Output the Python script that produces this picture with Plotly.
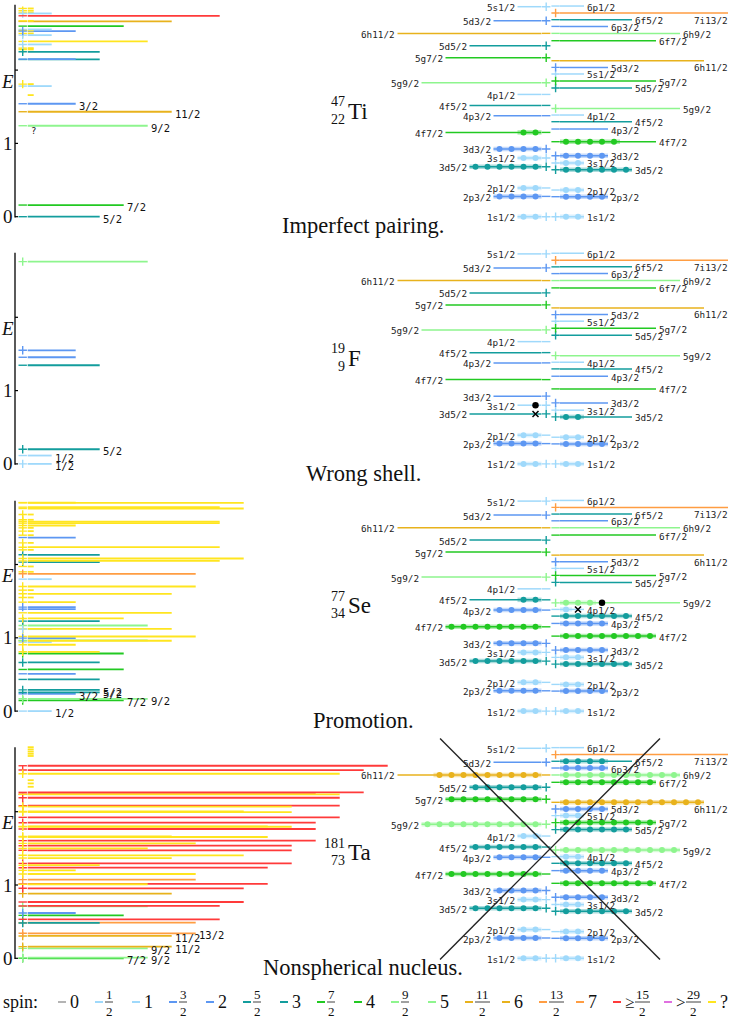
import plotly.graph_objects as go

# ------------------------------------------------------------------ data
SPIN_LEGEND = ["0", "1/2", "1", "3/2", "2", "5/2", "3", "7/2", "4", "9/2", "5",
               "11/2", "6", "13/2", "7", "≥15/2", ">29/2", "?"]
LEGEND_COLORS = ["#b4b4b4", "#9fd9fb", "#9fd9fb", "#5d97f2", "#5d97f2", "#139d9d",
                 "#139d9d", "#22c922", "#22c922", "#8ef58e", "#8ef58e", "#e8b21c",
                 "#e8b21c", "#ff9d42", "#ff9d42", "#ff3a3a", "#e070e0", "#ffe51f"]

# shell-model single-particle levels (energies in E units above 1s1/2)
PROTON_LEVELS = ["1s1/2", "2p3/2", "2p1/2", "3d5/2", "3s1/2", "3d3/2", "4f7/2", "4p3/2",
                 "4f5/2", "4p1/2", "5g9/2", "5g7/2", "5d5/2", "6h11/2", "5d3/2", "5s1/2"]
PROTON_E = [0.0, 0.277, 0.392, 0.682, 0.801, 0.924, 1.150, 1.378,
            1.518, 1.668, 1.828, 2.169, 2.333, 2.501, 2.674, 2.865]
NEUTRON_LEVELS = ["1s1/2", "2p3/2", "2p1/2", "3d5/2", "3s1/2", "3d3/2", "4f7/2", "4p3/2",
                  "4f5/2", "4p1/2", "5g9/2", "5d5/2", "5g7/2", "5s1/2", "5d3/2", "6h11/2",
                  "6f7/2", "6h9/2", "6p3/2", "6f5/2", "7i13/2", "6p1/2"]
NEUTRON_E = [0.0, 0.273, 0.364, 0.641, 0.733, 0.832, 1.023, 1.196,
             1.296, 1.387, 1.477, 1.756, 1.851, 1.947, 2.037, 2.128,
             2.401, 2.501, 2.596, 2.688, 2.779, 2.874]

# occupations (counts per level, in list order)
TI_PROT = [2, 4, 2, 6, 2, 4, 2]
TI_NEUT = [2, 4, 2, 6, 2, 4, 5]
F_PROT = [2, 4, 2]
F_NEUT = [2, 4, 2, 2]
SE_PROT = [2, 4, 2, 6, 2, 4, 8, 4, 2]
SE_NEUT = [2, 4, 2, 6, 2, 4, 8, 4, 6, 1, 3]
TA_PROT = [2, 4, 2, 6, 2, 4, 8, 4, 6, 2, 10, 8, 6, 9]
TA_NEUT = [2, 4, 2, 6, 2, 4, 8, 4, 6, 2, 10, 6, 8, 2, 4, 12, 8, 10, 4, 4]
# special marks: (panel, side, level, slot, kind)
SPECIAL = [(1, "p", "3s1/2", 0, "dot"), (1, "p", "3d5/2", 0, "x"),
           (2, "n", "4p1/2", 1, "x"), (2, "n", "5g9/2", 3, "dot")]

# measured spectra: energy, 2J (None = unknown, short mark), parity, uncertain spin
TI_E = [0.000, 0.159, 1.241, 1.432, 1.541, 1.659, 1.782, 1.809, 2.145, 2.150, 2.250, 2.282,
        2.300, 2.350, 2.391, 2.477, 2.500, 2.532, 2.540, 2.555, 2.600, 2.664, 2.672, 2.741,
        2.773, 2.780, 2.809, 2.841]
TI_2J = [5, 7, 9, 11, 3, None, 1, None, 5, 3, 5, None, None, 1, 9, 1, None, 3, None, 1, 7, 11,
         None, 15, 1, None, None, None]
TI_PAR = ["-", "-", "-", "-", "-", "", "-", "+", "-", "-", "+", "+", "-", "+", "-", "+", "+",
          "+", "-", "-", "-", "-", "-", "-", "+", "-", "+", "-"]
TI_UNC = [0, 0, 0, 0, 0, 1, 0, 1, 0, 0, 0, 1, 1, 0, 1, 0, 1, 0, 1, 0, 0, 0, 1, 0, 0, 1, 1, 1]
TI_LABELS = [(0, "5/2"), (1, "7/2"), (2, "9/2"), (3, "11/2"), (4, "3/2")]

F_E = [0.000, 0.114, 0.200, 1.346, 1.455, 1.550, 2.760]
F_2J = [1, 1, 5, 5, 3, 3, 9]
F_PAR = ["+", "-", "+", "-", "-", "+", "+"]
F_UNC = [0, 0, 0, 0, 0, 0, 0]
F_LABELS = [(0, "1/2"), (1, "1/2"), (2, "5/2")]

SE_E = [0.000, 0.145, 0.168, 0.236, 0.255, 0.290, 0.432, 0.509, 0.568, 0.664, 0.786, 0.809,
        0.905, 0.941, 0.960, 0.964, 0.995, 1.018, 1.118, 1.122, 1.168, 1.227, 1.264, 1.341,
        1.391, 1.418, 1.486, 1.550, 1.600, 1.650, 1.700, 1.800, 1.873, 1.900, 1.973, 2.032,
        2.050, 2.082, 2.132, 2.200, 2.236, 2.295, 2.368, 2.400, 2.455, 2.500, 2.532, 2.564,
        2.586, 2.610, 2.682, 2.764, 2.782, 2.841, 2.845]
SE_2J = [1, 7, 9, 3, 5, 5, 5, 3, 7, 5, 7, 5,
         3, 1, 11, 9, 3, 13, 1, 11, 9, 5, 7, 11,
         3, 3, 3, None, 11, None, 13, 1, 13, None, None, 5,
         15, 17, 5, None, 15, None, 3, None, None, None, 3, 15,
         15, None, None, 17, 15, 17, 3]
SE_PAR = ["-", "+", "+", "-", "-", "+", "-", "-", "-", "+", "+", "+",
          "+", "-", "+", "-", "+", "+", "+", "+", "+", "+", "+", "-",
          "-", "+", "-", "+", "+", "-", "+", "-", "+", "-", "-", "+",
          "+", "+", "+", "-", "+", "+", "-", "-", "+", "-", "+", "-",
          "+", "+", "+", "-", "-", "-", "-"]
SE_UNC = [0, 0, 0, 0, 0, 0, 0, 0, 0, 0, 0, 1,
          1, 0, 1, 0, 0, 1, 0, 1, 0, 0, 1, 1,
          0, 0, 1, 1, 1, 1, 1, 0, 0, 1, 1, 0,
          1, 1, 0, 1, 1, 1, 0, 1, 1, 1, 1, 1,
          1, 1, 1, 1, 1, 1, 1]
SE_LABELS = [(0, "1/2"), (1, "7/2"), (2, "9/2"), (3, "3/2"), (4, "5/2"), (5, "5/2")]

TA_E = [0.000, 0.008, 0.136, 0.159, 0.305, 0.341, 0.482, 0.486, 0.532, 0.586, 0.618, 0.710,
        0.714, 0.768, 0.882, 0.955, 1.010, 1.014, 1.073, 1.150, 1.200, 1.236, 1.270, 1.295,
        1.368, 1.405, 1.473, 1.500, 1.536, 1.568, 1.605, 1.655, 1.664, 1.764, 1.795, 1.800,
        1.850, 1.923, 1.995, 2.005, 2.070, 2.082, 2.190, 2.236, 2.240, 2.264, 2.340, 2.386,
        2.430, 2.518, 2.568, 2.627, 2.760, 2.790, 2.820, 2.850, 2.880]
TA_2J = [7, 9, 9, 11, 11, 13, 5, 13, 15, 7, 3, 9,
         15, 17, 11, 17, 9, 19, 13, 13, 3, 19, 5, 21,
         11, 17, 21, 9, 21, 13, 23, 19, 11, 23, 21, 19,
         23, 25, 21, 17, 21, 25, 25, 25, 23, 27, None, None,
         None, 25, 27, 29, None, None, None, None, None]
TA_PAR = ["+", "+", "+", "+", "+", "+", "+", "+", "-", "+", "+", "+",
          "-", "-", "+", "+", "-", "-", "+", "+", "+", "+", "+", "+",
          "-", "+", "-", "+", "-", "+", "+", "+", "+", "-", "+", "+",
          "+", "-", "+", "+", "+", "+", "+", "-", "-", "-", "", "",
          "", "+", "+", "-", "", "", "", "", ""]
TA_UNC = [0, 0, 0, 0, 0, 0, 0, 0, 0, 0, 0, 0,
          0, 0, 0, 0, 1, 0, 0, 1, 1, 0, 1, 0,
          1, 1, 0, 1, 0, 1, 0, 1, 1, 0, 1, 1,
          0, 0, 1, 1, 1, 0, 0, 1, 0, 0, 1, 1,
          1, 1, 0, 0, 1, 1, 1, 1, 1]
TA_LABELS = [(0, "7/2"), (1, "9/2"), (2, "9/2"), (3, "11/2"), (4, "11/2"), (5, "13/2")]

NUCLIDES = [("47", "22", "Ti"), ("19", "9", "F"), ("77", "34", "Se"), ("181", "73", "Ta")]
CAPTIONS = ["Imperfect pairing.", "Wrong shell.", "Promotion.", "Nonspherical nucleus."]
AXIS_TOP = [2.89, 2.88, 2.87, 2.88]
CROSS_X = [36.67, 55.0]
CROSS_Y = [3.0, -0.015]

PANELS = [
    dict(E=TI_E, J=TI_2J, P=TI_PAR, U=TI_UNC, L=TI_LABELS, prot=TI_PROT, neut=TI_NEUT),
    dict(E=F_E, J=F_2J, P=F_PAR, U=F_UNC, L=F_LABELS, prot=F_PROT, neut=F_NEUT),
    dict(E=SE_E, J=SE_2J, P=SE_PAR, U=SE_UNC, L=SE_LABELS, prot=SE_PROT, neut=SE_NEUT),
    dict(E=TA_E, J=TA_2J, P=TA_PAR, U=TA_UNC, L=TA_LABELS, prot=TA_PROT, neut=TA_NEUT),
]

# ------------------------------------------------------------------ geometry / style
W, H = 729, 1018
SLOT = 12.0           # px per single-particle state
PXE = 73.3            # px per unit of E
BASES = [216.7, 463.9, 711.1, 958.3]
YREFS = ["y", "y2", "y3", "y4"]

AX_X = 15 / SLOT
SIGN_X = 22.7 / SLOT
LINE_X0 = 27.7 / SLOT
P_END = 541.5 / SLOT
P_SIGN = 546.2 / SLOT
N_SIGN = 555.6 / SLOT
N_START = 560.0 / SLOT

SERIF = "Liberation Serif"
MONO = "DejaVu Sans Mono"


def color_for(two_j, unc):
    if unc or two_j is None:
        return LEGEND_COLORS[17]
    if two_j >= 31:
        return LEGEND_COLORS[16]
    if two_j >= 15:
        return LEGEND_COLORS[15]
    return LEGEND_COLORS[two_j]


def parse_level(name):
    l = name[1]
    tj = int(name[2:].split("/")[0])
    par = "+" if l in "sdgi" else "-"
    return tj, par


fig = go.Figure()


def add_lines(segs, yref, width, opacity=1.0):
    bycol = {}
    for (x0, x1, y, col) in segs:
        xs, ys = bycol.setdefault(col, ([], []))
        xs += [x0, x1, None]
        ys += [y, y, None]
    for col, (xs, ys) in bycol.items():
        fig.add_trace(go.Scatter(x=xs, y=ys, mode="lines", yaxis=yref, xaxis="x",
                                 line=dict(color=col, width=width), opacity=opacity,
                                 hoverinfo="skip", showlegend=False))


def add_signs(signs, yref):
    groups = {}
    for (x, y, par, col) in signs:
        if par == "" or par not in "+-":
            continue
        xs, ys = groups.setdefault((par, col), ([], []))
        xs.append(x)
        ys.append(y)
    for (par, col), (xs, ys) in groups.items():
        sym = "cross-thin" if par == "+" else "line-ew"
        fig.add_trace(go.Scatter(x=xs, y=ys, mode="markers", yaxis=yref, xaxis="x",
                                 marker=dict(symbol=sym, size=6, color=col,
                                             line=dict(color=col, width=1.4)),
                                 hoverinfo="skip", showlegend=False))


def add_text(text, x, y, yref, size, family=SERIF, xanchor="center", yanchor="middle",
             xshift=0, yshift=0, color="#111"):
    fig.add_annotation(text=text, x=x, y=y, xref="x", yref=yref, showarrow=False,
                       font=dict(size=size, family=family, color=color),
                       xanchor=xanchor, yanchor=yanchor, xshift=xshift, yshift=yshift,
                       borderpad=0)


for p, pan in enumerate(PANELS):
    yr = YREFS[p]
    # ---- energy axis
    fig.add_trace(go.Scatter(x=[AX_X, AX_X], y=[-0.01, AXIS_TOP[p]], mode="lines", yaxis=yr,
                             line=dict(color="black", width=1.3), hoverinfo="skip",
                             showlegend=False))
    tx, ty = [], []
    for t in (0, 1, 2):
        tx += [AX_X, AX_X + 0.25, None]
        ty += [t, t, None]
    fig.add_trace(go.Scatter(x=tx, y=ty, mode="lines", yaxis=yr,
                             line=dict(color="black", width=1.2), hoverinfo="skip",
                             showlegend=False))
    add_text("0", 7.5 / SLOT, 0, yr, 19)
    add_text("1", 7.5 / SLOT, 1, yr, 19)
    add_text("<i>E</i>", 7.5 / SLOT, 1.85, yr, 19)

    # ---- measured spectrum
    segs, signs = [], []
    for E, tj, par, unc in zip(pan["E"], pan["J"], pan["P"], pan["U"]):
        col = color_for(tj, unc)
        length = 0.5 if tj is None else tj + 1
        segs.append((LINE_X0, LINE_X0 + length, E, col))
        signs.append((SIGN_X, E, par, col))
    add_lines(segs, yr, 1.8)
    add_signs(signs, yr)
    for idx, lab in pan["L"]:
        tj = pan["J"][idx]
        add_text(lab, LINE_X0 + tj + 1, pan["E"][idx], yr, 10.5, family=MONO,
                 xanchor="left", xshift=2, yshift=-2)
    if p == 0:
        add_text("?", LINE_X0 + 0.45, TI_E[2] - 0.07, yr, 9, family=MONO)

    # ---- shell-model diagram
    shell_segs, halo_segs, shell_signs = [], [], []
    dots = {}
    for side, names, energies, occ in (("p", PROTON_LEVELS, PROTON_E, pan["prot"]),
                                       ("n", NEUTRON_LEVELS, NEUTRON_E, pan["neut"])):
        for i, (name, E) in enumerate(zip(names, energies)):
            tj, par = parse_level(name)
            col = color_for(tj, False)
            n_occ = occ[i] if i < len(occ) else 0
            if side == "p":
                x0, x1, sx = P_END - (tj + 1), P_END, P_SIGN
                if n_occ:
                    halo_segs.append((P_END - n_occ, P_END, E, col))
            else:
                x0, x1, sx = N_START, N_START + tj + 1, N_SIGN
                if n_occ:
                    halo_segs.append((N_START, N_START + n_occ, E, col))
            shell_segs.append((x0, x1, E, col))
            shell_signs.append((sx, E, par, col))
            for k in range(n_occ):
                xk = P_END - (k + 0.5) if side == "p" else N_START + k + 0.5
                dx, dy = dots.setdefault(col, ([], []))
                dx.append(xk)
                dy.append(E)
            # label
            lab_w = 5.6 * len(name)
            if side == "p":
                add_text(name, x0, E, yr, 9.3, family=MONO, xanchor="right", xshift=-2,
                         yshift=-1, color="#222")
            else:
                if x1 * SLOT + lab_w + 3 > W:
                    add_text(name, W / SLOT, E, yr, 9.3, family=MONO, xanchor="right",
                             yshift=-7, color="#222")
                else:
                    add_text(name, x1, E, yr, 9.3, family=MONO, xanchor="left", xshift=2,
                             yshift=-1, color="#222")
    add_lines(halo_segs, yr, 4.5, opacity=0.35)
    add_lines(shell_segs, yr, 1.5)
    add_signs(shell_signs, yr)
    for col, (dx, dy) in dots.items():
        fig.add_trace(go.Scatter(x=dx, y=dy, mode="markers", yaxis=yr,
                                 marker=dict(symbol="circle", size=6, color=col),
                                 hoverinfo="skip", showlegend=False))
    for (pp, side, lvl, slot, kind) in SPECIAL:
        if pp != p:
            continue
        if side == "p":
            E = PROTON_E[PROTON_LEVELS.index(lvl)]
            xk = P_END - (slot + 0.5)
        else:
            E = NEUTRON_E[NEUTRON_LEVELS.index(lvl)]
            xk = N_START + slot + 0.5
        if kind == "dot":
            mk = dict(symbol="circle", size=6.5, color="black")
        else:
            mk = dict(symbol="x-thin", size=6, color="black", line=dict(color="black", width=1.5))
        fig.add_trace(go.Scatter(x=[xk], y=[E], mode="markers", yaxis=yr, marker=mk,
                                 hoverinfo="skip", showlegend=False))

    # ---- nuclide and caption
    A, Z, sym = NUCLIDES[p]
    add_text(A, 346 / SLOT, 1.57, yr, 14, xanchor="right")
    add_text(Z, 346 / SLOT, 1.33, yr, 14, xanchor="right")
    add_text(sym, 347 / SLOT, 1.44, yr, 23, xanchor="left")
    add_text(CAPTIONS[p], 363 / SLOT, -0.125, yr, 22.5)

# big cross over the Ta shell diagram
for ys in (CROSS_Y, CROSS_Y[::-1]):
    fig.add_trace(go.Scatter(x=CROSS_X, y=ys, mode="lines", yaxis="y4",
                             line=dict(color="#222", width=1.4), hoverinfo="skip",
                             showlegend=False))

# ------------------------------------------------------------------ legend
LEG_Y = 1002


def px(x):
    return x / W


def py(y):
    return 1 - y / H


fig.add_annotation(text="spin:", x=px(1), y=py(LEG_Y), xref="paper", yref="paper",
                   showarrow=False, xanchor="left", yanchor="middle",
                   font=dict(size=18, family=SERIF, color="#111"))
for i, (lab, col) in enumerate(zip(SPIN_LEGEND, LEGEND_COLORS)):
    x0 = 58 + 37 * i if i <= 15 else [664, 708][i - 16]
    fig.add_shape(type="line", xref="paper", yref="paper", x0=px(x0), x1=px(x0 + 8),
                  y0=py(LEG_Y), y1=py(LEG_Y), line=dict(color=col, width=2))
    xl = x0 + 10
    if "/" in lab:
        pre = ""
        body = lab
        if lab[0] in "≥>":
            pre, body = lab[0], lab[1:]
        if pre:
            fig.add_annotation(text=pre, x=px(xl), y=py(LEG_Y), xref="paper", yref="paper",
                               showarrow=False, xanchor="left", yanchor="middle",
                               font=dict(size=17, family=SERIF, color="#111"))
            xl += 12
        num, den = body.split("/")
        wf = 7 * len(num) + 1
        fig.add_annotation(text=num, x=px(xl + wf / 2), y=py(LEG_Y - 8), xref="paper",
                           yref="paper", showarrow=False, xanchor="center", yanchor="middle",
                           font=dict(size=13, family=SERIF, color="#111"))
        fig.add_annotation(text=den, x=px(xl + wf / 2), y=py(LEG_Y + 9), xref="paper",
                           yref="paper", showarrow=False, xanchor="center", yanchor="middle",
                           font=dict(size=13, family=SERIF, color="#111"))
        fig.add_shape(type="line", xref="paper", yref="paper", x0=px(xl), x1=px(xl + wf),
                      y0=py(LEG_Y), y1=py(LEG_Y), line=dict(color="#111", width=0.8))
    else:
        fig.add_annotation(text=lab, x=px(xl), y=py(LEG_Y), xref="paper", yref="paper",
                           showarrow=False, xanchor="left", yanchor="middle",
                           font=dict(size=18, family=SERIF, color="#111"))

# ------------------------------------------------------------------ layout
layout = dict(width=W, height=H, autosize=False, margin=dict(l=0, r=0, t=0, b=0),
              paper_bgcolor="white", plot_bgcolor="white", showlegend=False,
              xaxis=dict(range=[0, W / SLOT], domain=[0, 1], visible=False, fixedrange=True))
for i, B in enumerate(BASES):
    key = "yaxis" if i == 0 else f"yaxis{i + 1}"
    d = dict(range=[-(H - B) / PXE, B / PXE], domain=[0, 1], visible=False, fixedrange=True)
    if i > 0:
        d["overlaying"] = "y"
    layout[key] = d
fig.update_layout(**layout)

fig.write_html("out.html", config={"displayModeBar": False},
               post_script="document.body.style.margin='0';document.body.style.overflow='hidden';")
